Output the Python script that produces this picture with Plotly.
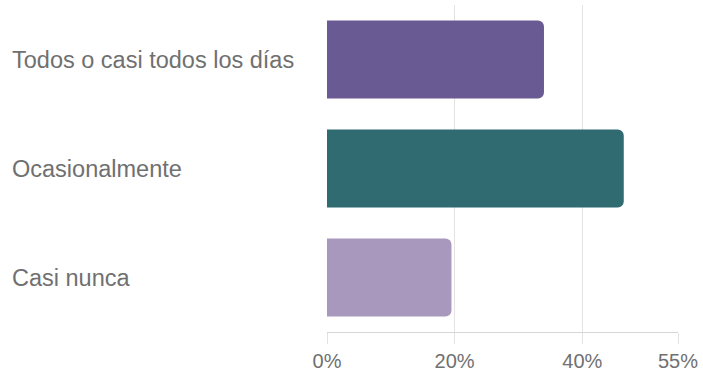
import plotly.graph_objects as go

# Frequency categories (top to bottom) and their share of responses (%)
categories = ["Todos o casi todos los días", "Ocasionalmente", "Casi nunca"]
shares = [34, 46.5, 19.5]
bar_colors = ["#6a5a93", "#2f6b70", "#a898bd"]

tick_values = [0, 20, 40, 55]
tick_labels = ["0%", "20%", "40%", "55%"]

W, H = 703, 373
left, right, top, bottom = 327, 25, 5, 41

fig = go.Figure(
    go.Bar(
        x=shares,
        y=categories,
        orientation="h",
        width=0.715,
        marker=dict(color=bar_colors, line=dict(width=0), cornerradius=6),
        hoverinfo="skip",
    )
)

family = "Liberation Sans, Arial, sans-serif"
category_font = dict(family=family, size=23.5, color="#707070")
tick_font = dict(family=family, size=20, color="#707070")

# Left-aligned category labels placed in the left margin
plot_w = W - left - right
for cat in categories:
    fig.add_annotation(
        x=(10 - left) / plot_w,
        xref="paper",
        y=cat,
        yref="y",
        text=cat,
        showarrow=False,
        xanchor="left",
        yanchor="middle",
        font=category_font,
    )

fig.update_layout(
    width=W,
    height=H,
    margin=dict(l=left, r=right, t=top, b=bottom, pad=0, autoexpand=False),
    paper_bgcolor="white",
    plot_bgcolor="white",
    showlegend=False,
    bargap=0.285,
    xaxis=dict(
        range=[0, 55],
        tickvals=tick_values,
        ticktext=tick_labels,
        showgrid=True,
        gridcolor="#e3e3e3",
        gridwidth=1,
        zeroline=False,
        showline=True,
        linecolor="#d6d6d6",
        linewidth=1,
        ticks="outside",
        ticklen=11,
        tickcolor="#e3e3e3",
        tickwidth=1,
        tickfont=tick_font,
        automargin=False,
        fixedrange=True,
    ),
    yaxis=dict(
        categoryorder="array",
        categoryarray=categories[::-1],
        range=[-0.5, 2.5],
        showticklabels=False,
        showgrid=False,
        zeroline=False,
        showline=False,
        automargin=False,
        fixedrange=True,
    ),
)

fig.write_html("out.html")
